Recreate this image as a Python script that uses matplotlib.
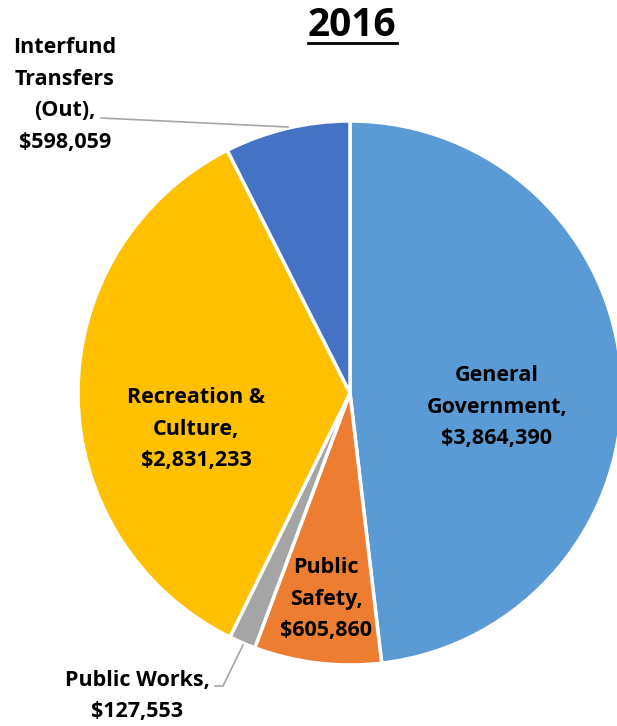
import matplotlib
matplotlib.use("Agg")
import matplotlib.pyplot as plt

categories = ["General\nGovernment,", "Public\nSafety,", "Public Works,", "Recreation &\nCulture,", "Interfund\nTransfers\n(Out),"]
values = [3864390, 605860, 127553, 2831233, 598059]
colors = ["#5B9BD5", "#ED7D31", "#A5A5A5", "#FFC000", "#4472C4"]
title = "2016"

W, H = 617, 726
fig = plt.figure(figsize=(W / 100, H / 100), dpi=100)
ax = fig.add_axes([0, 0, 1, 1])
ax.set_xlim(0, W)
ax.set_ylim(0, H)
ax.axis("off")

def py(y):
    return H - y

cx, cy, r = 350, py(393), 272
ax.pie(values, colors=colors, startangle=90, counterclock=False,
       center=(cx, cy), radius=r,
       wedgeprops=dict(edgecolor="white", linewidth=2.5))
ax.set_xlim(0, W)
ax.set_ylim(0, H)
ax.set_aspect("equal")

font = dict(family=["Open Sans", "DejaVu Sans"], fontweight="bold", fontsize=15.5, color="black",
            ha="center", va="center", linespacing=1.66)

def lab(i, x, y):
    ax.text(x, py(y), f"{categories[i]}\n${values[i]:,}", **font)

lab(0, 497, 407)
lab(1, 326, 599)
lab(2, 137, 696)
lab(3, 196, 429)
lab(4, 65, 95)

# leader lines
ax.plot([101, 288], [py(118), py(127)], color="#A6A6A6", lw=1.2)
ax.plot([215, 223, 243], [py(686), py(686), py(645)], color="#A6A6A6", lw=1.2)

# title with underline
ax.text(352, py(25), title, family=["Open Sans", "DejaVu Sans"], fontweight="bold",
        fontsize=28, ha="center", va="center")
ax.plot([308, 397], [py(43), py(43)], color="black", lw=2)

fig.savefig("out.png", dpi=100)
